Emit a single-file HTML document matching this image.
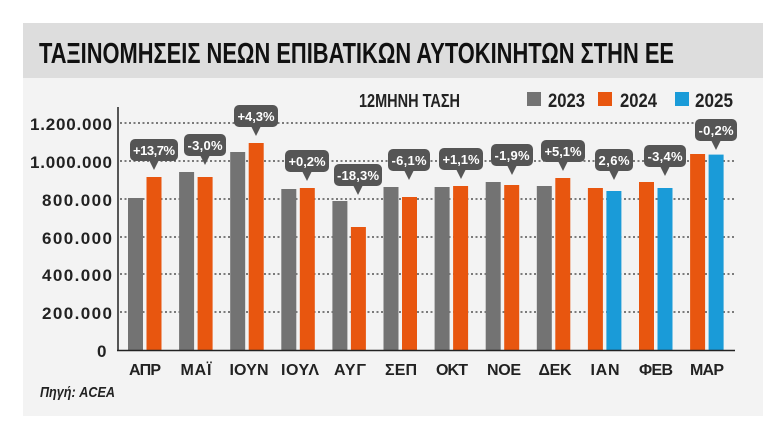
<!DOCTYPE html>
<html><head><meta charset="utf-8"><style>
html,body{margin:0;padding:0;background:#fff;}
svg{display:block;}
text{font-family:"Liberation Sans Narrow","Liberation Sans",sans-serif;font-weight:bold;}
</style></head><body>
<svg width="768" height="431" viewBox="0 0 768 431" xmlns="http://www.w3.org/2000/svg">
<rect x="23" y="23" width="740" height="393" fill="#f3f3f3"/>
<rect x="23" y="23" width="740" height="55" fill="#dddddd"/>
<text x="39" y="63" font-size="29" fill="#111" textLength="635" lengthAdjust="spacingAndGlyphs">ΤΑΞΙΝΟΜΗΣΕΙΣ ΝΕΩΝ ΕΠΙΒΑΤΙΚΩΝ ΑΥΤΟΚΙΝΗΤΩΝ ΣΤΗΝ ΕΕ</text>

<text x="359" y="107" font-size="18" fill="#222" textLength="101" lengthAdjust="spacingAndGlyphs">12ΜΗΝΗ ΤΑΣΗ</text>
<rect x="527" y="92" width="14" height="14" fill="#737373"/>
<text x="548" y="107" font-size="19" fill="#222" textLength="37" lengthAdjust="spacingAndGlyphs">2023</text>
<rect x="598" y="92" width="14" height="14" fill="#e8560f"/>
<text x="620" y="107" font-size="19" fill="#222" textLength="37" lengthAdjust="spacingAndGlyphs">2024</text>
<rect x="675" y="92" width="14" height="14" fill="#1a9bd8"/>
<text x="695" y="107" font-size="19" fill="#222" textLength="38" lengthAdjust="spacingAndGlyphs">2025</text>

<g stroke="#333" stroke-width="1.2" stroke-dasharray="2,2.5">
<line x1="120" y1="123" x2="735" y2="123"/>
<line x1="120" y1="161" x2="735" y2="161"/>
<line x1="120" y1="199" x2="735" y2="199"/>
<line x1="120" y1="237" x2="735" y2="237"/>
<line x1="120" y1="274" x2="735" y2="274"/>
<line x1="120" y1="312" x2="735" y2="312"/>
</g>
<g font-size="17" fill="#222" lengthAdjust="spacingAndGlyphs">
<text x="30" y="130" textLength="82">1.200.000</text>
<text x="30" y="168" textLength="82">1.000.000</text>
<text x="42" y="206" textLength="70">800.000</text>
<text x="42" y="244" textLength="70">600.000</text>
<text x="42" y="281" textLength="70">400.000</text>
<text x="42" y="319" textLength="70">200.000</text>
<text x="97" y="357" textLength="10">0</text>
</g>

<g fill="#737373">
<rect x="128" y="198" width="15" height="152"/>
<rect x="179.1" y="172" width="15" height="178"/>
<rect x="230.2" y="152" width="15" height="198"/>
<rect x="281.3" y="189" width="15" height="161"/>
<rect x="332.4" y="201" width="15" height="149"/>
<rect x="383.5" y="187" width="15" height="163"/>
<rect x="434.6" y="187" width="15" height="163"/>
<rect x="485.7" y="182" width="15" height="168"/>
<rect x="536.8" y="186" width="15" height="164"/>
</g>
<g fill="#e8560f">
<rect x="146.5" y="177" width="15" height="173"/>
<rect x="197.6" y="177" width="15" height="173"/>
<rect x="248.7" y="143" width="15" height="207"/>
<rect x="299.8" y="188" width="15" height="162"/>
<rect x="350.9" y="227" width="15" height="123"/>
<rect x="402" y="197" width="15" height="153"/>
<rect x="453.1" y="186" width="15" height="164"/>
<rect x="504.2" y="185" width="15" height="165"/>
<rect x="555.3" y="178" width="15" height="172"/>
<rect x="587.9" y="188" width="15" height="162"/>
<rect x="639" y="182" width="15" height="168"/>
<rect x="690.1" y="154" width="15" height="196"/>
</g>
<g fill="#1a9bd8">
<rect x="606.4" y="191" width="15" height="159"/>
<rect x="657.5" y="188" width="15" height="162"/>
<rect x="708.6" y="154.6" width="15" height="195.4"/>
</g>

<line x1="118" y1="107" x2="118" y2="351" stroke="#222" stroke-width="1.5"/>
<line x1="117" y1="350.5" x2="735" y2="350.5" stroke="#222" stroke-width="1.5"/>

<g font-size="16" fill="#222" text-anchor="middle" lengthAdjust="spacingAndGlyphs">
<text x="145" y="375" textLength="32">ΑΠΡ</text>
<text x="196" y="375" textLength="31">ΜΑΪ</text>
<text x="249" y="375" textLength="39">ΙΟΥΝ</text>
<text x="300" y="375" textLength="38">ΙΟΥΛ</text>
<text x="350" y="375" textLength="32">ΑΥΓ</text>
<text x="401" y="375" textLength="32">ΣΕΠ</text>
<text x="452" y="375" textLength="32">ΟΚΤ</text>
<text x="504" y="375" textLength="34">ΝΟΕ</text>
<text x="555" y="375" textLength="33">ΔΕΚ</text>
<text x="605" y="375" textLength="29">ΙΑΝ</text>
<text x="656" y="375" textLength="34">ΦΕΒ</text>
<text x="707" y="375" textLength="34">ΜΑΡ</text>
</g>
<text x="40" y="397" font-size="15" font-style="italic" fill="#222" textLength="75" lengthAdjust="spacingAndGlyphs">Πηγή: ACEA</text>

<g font-size="13" fill="#fff" text-anchor="middle" lengthAdjust="spacingAndGlyphs">
<g transform="translate(154,170)"><rect x="-24" y="-31" width="48" height="22" rx="5" fill="#555"/><polygon points="-5,-10 5,-10 0,0" fill="#555"/><text y="-15" textLength="42">+13,7%</text></g>
<g transform="translate(205,165)"><rect x="-21" y="-31" width="42" height="22" rx="5" fill="#555"/><polygon points="-5,-10 5,-10 0,0" fill="#555"/><text y="-15" textLength="35">-3,0%</text></g>
<g transform="translate(256,136)"><rect x="-22" y="-31" width="44" height="22" rx="5" fill="#555"/><polygon points="-5,-10 5,-10 0,0" fill="#555"/><text y="-15" textLength="37">+4,3%</text></g>
<g transform="translate(307,181)"><rect x="-22" y="-31" width="44" height="22" rx="5" fill="#555"/><polygon points="-5,-10 5,-10 0,0" fill="#555"/><text y="-15" textLength="37">+0,2%</text></g>
<g transform="translate(358,195)"><rect x="-24" y="-31" width="48" height="22" rx="5" fill="#555"/><polygon points="-5,-10 5,-10 0,0" fill="#555"/><text y="-15" textLength="42">-18,3%</text></g>
<g transform="translate(409,180)"><rect x="-21" y="-31" width="42" height="22" rx="5" fill="#555"/><polygon points="-5,-10 5,-10 0,0" fill="#555"/><text y="-15" textLength="35">-6,1%</text></g>
<g transform="translate(461,179)"><rect x="-22" y="-31" width="44" height="22" rx="5" fill="#555"/><polygon points="-5,-10 5,-10 0,0" fill="#555"/><text y="-15" textLength="37">+1,1%</text></g>
<g transform="translate(512,175)"><rect x="-21" y="-31" width="42" height="22" rx="5" fill="#555"/><polygon points="-5,-10 5,-10 0,0" fill="#555"/><text y="-15" textLength="35">-1,9%</text></g>
<g transform="translate(563,171)"><rect x="-22" y="-31" width="44" height="22" rx="5" fill="#555"/><polygon points="-5,-10 5,-10 0,0" fill="#555"/><text y="-15" textLength="37">+5,1%</text></g>
<g transform="translate(614,180)"><rect x="-19" y="-31" width="38" height="22" rx="5" fill="#555"/><polygon points="-5,-10 5,-10 0,0" fill="#555"/><text y="-15" textLength="31">2,6%</text></g>
<g transform="translate(665,176)"><rect x="-21" y="-31" width="42" height="22" rx="5" fill="#555"/><polygon points="-5,-10 5,-10 0,0" fill="#555"/><text y="-15" textLength="35">-3,4%</text></g>
<g transform="translate(716,150)"><rect x="-21" y="-31" width="42" height="22" rx="5" fill="#555"/><polygon points="-5,-10 5,-10 0,0" fill="#555"/><text y="-15" textLength="35">-0,2%</text></g>
</g>
</svg>
</body></html>
